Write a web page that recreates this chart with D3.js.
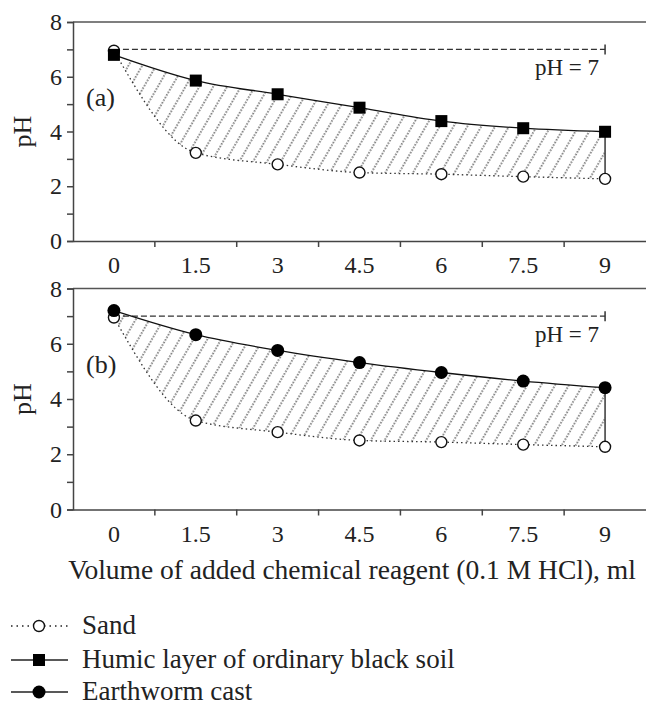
<!DOCTYPE html>
<html>
<head>
<meta charset="utf-8">
<script src="https://cdn.jsdelivr.net/npm/d3@7"></script>
<style>
  body { margin: 0; background: #fff; }
  text { font-family: "Liberation Serif", "Times New Roman", serif; fill: #222; }
</style>
</head>
<body>
<svg id="chart"></svg>
<script>
const volumes = [0, 1.5, 3, 4.5, 6, 7.5, 9];
const sand = [6.95, 3.22, 2.8, 2.5, 2.44, 2.35, 2.27];
const humic = [6.8, 5.86, 5.36, 4.87, 4.38, 4.12, 3.99];
const earthworm = [7.2, 6.33, 5.76, 5.32, 4.96, 4.65, 4.41];
const yTickLabels = [0, 2, 4, 6, 8];
const neutralPH = 7;
const xTitle = "Volume of added chemical reagent (0.1 M HCl), ml";
const legendLabels = ["Sand", "Humic layer of ordinary black soil", "Earthworm cast"];

const width = 646;
const height = 706;
const left = 73;
const right = 646;

const svg = d3.select("#chart")
  .attr("width", width)
  .attr("height", height);

// hatch pattern for the buffered region
svg.append("defs").append("pattern")
  .attr("id", "hatch")
  .attr("patternUnits", "userSpaceOnUse")
  .attr("width", 12)
  .attr("height", 12)
  .attr("patternTransform", "rotate(30)")
  .append("line")
  .attr("x1", 1).attr("y1", 0)
  .attr("x2", 1).attr("y2", 12)
  .attr("stroke", "#1a1a1a")
  .attr("stroke-width", 1.1)
  .attr("stroke-dasharray", "1.5,1.5");

const x = d3.scaleBand()
  .domain(volumes)
  .range([left, right]);
const cx = v => x(v) + x.bandwidth() / 2;

const panels = [
  { top: 22, h: 219, label: "(a)", values: humic, marker: "square" },
  { top: 288.5, h: 221, label: "(b)", values: earthworm, marker: "circle" }
];

panels.forEach(p => {
  const g = svg.append("g").attr("transform", `translate(0,${p.top})`);
  const y = d3.scaleLinear().domain([0, 8]).range([p.h, 0]);
  const last = volumes[volumes.length - 1];

  const pts = volumes.map((v, i) => ({ v, lo: sand[i], hi: p.values[i] }));

  // hatched area between sand and the soil curve
  g.append("path")
    .datum(pts)
    .attr("fill", "url(#hatch)")
    .attr("d", d3.area()
      .x(d => cx(d.v))
      .y0(d => y(d.lo))
      .y1(d => y(d.hi))
      .curve(d3.curveMonotoneX));

  // pH = 7 reference line
  g.append("line")
    .attr("x1", cx(volumes[0])).attr("x2", cx(last))
    .attr("y1", y(neutralPH)).attr("y2", y(neutralPH))
    .attr("stroke", "#333")
    .attr("stroke-width", 1.3)
    .attr("stroke-dasharray", "6,3");
  g.append("line")
    .attr("x1", cx(last)).attr("x2", cx(last))
    .attr("y1", y(neutralPH) - 5).attr("y2", y(neutralPH) + 5)
    .attr("stroke", "#333")
    .attr("stroke-width", 1.5);
  g.append("text")
    .attr("x", cx(last) - 6)
    .attr("y", y(neutralPH) + 26)
    .attr("text-anchor", "end")
    .attr("font-size", 23)
    .text("pH = " + neutralPH);

  // vertical closing line at the last volume
  g.append("line")
    .attr("x1", cx(last)).attr("x2", cx(last))
    .attr("y1", y(p.values[p.values.length - 1])).attr("y2", y(sand[sand.length - 1]))
    .attr("stroke", "#444")
    .attr("stroke-width", 1.6);

  // sand curve (dotted)
  g.append("path")
    .datum(pts)
    .attr("fill", "none")
    .attr("stroke", "#333")
    .attr("stroke-width", 1.3)
    .attr("stroke-dasharray", "1.5,3")
    .attr("d", d3.line().x(d => cx(d.v)).y(d => y(d.lo)).curve(d3.curveMonotoneX));

  // soil curve (solid)
  g.append("path")
    .datum(pts)
    .attr("fill", "none")
    .attr("stroke", "#111")
    .attr("stroke-width", 1.3)
    .attr("d", d3.line().x(d => cx(d.v)).y(d => y(d.hi)).curve(d3.curveMonotoneX));

  // sand markers
  g.selectAll(".sand")
    .data(pts)
    .enter().append("circle")
    .attr("cx", d => cx(d.v))
    .attr("cy", d => y(d.lo))
    .attr("r", 5.5)
    .attr("fill", "#fff")
    .attr("stroke", "#111")
    .attr("stroke-width", 1.4);

  // soil markers
  if (p.marker === "square") {
    g.selectAll(".hi")
      .data(pts)
      .enter().append("rect")
      .attr("x", d => cx(d.v) - 6)
      .attr("y", d => y(d.hi) - 6)
      .attr("width", 12)
      .attr("height", 12)
      .attr("fill", "#000");
  } else {
    g.selectAll(".hi")
      .data(pts)
      .enter().append("circle")
      .attr("cx", d => cx(d.v))
      .attr("cy", d => y(d.hi))
      .attr("r", 6.5)
      .attr("fill", "#000");
  }

  // frame top
  g.append("line")
    .attr("x1", left).attr("x2", right)
    .attr("y1", y(8)).attr("y2", y(8))
    .attr("stroke", "#555")
    .attr("stroke-width", 1.5);

  // y axis
  const yAxis = g.append("g")
    .attr("transform", `translate(${left},0)`)
    .call(d3.axisLeft(y)
      .tickValues(d3.range(0, 9))
      .tickSize(6)
      .tickPadding(5)
      .tickFormat(d => yTickLabels.includes(d) ? d : ""));
  yAxis.selectAll("text").attr("font-size", 24).style("font-family", "Liberation Serif");
  yAxis.selectAll("line,path").attr("stroke", "#444").attr("stroke-width", 1.5);

  // x axis: labels at band centres, ticks at band boundaries
  const xAxis = g.append("g")
    .attr("transform", `translate(0,${p.h})`)
    .call(d3.axisBottom(x).tickSize(0).tickPadding(15).tickSizeOuter(0));
  xAxis.selectAll("text").attr("font-size", 24).style("font-family", "Liberation Serif");
  xAxis.select("path").attr("stroke", "#444").attr("stroke-width", 1.5);
  xAxis.selectAll(".bound")
    .data(volumes.slice(1))
    .enter().append("line")
    .attr("x1", d => x(d)).attr("x2", d => x(d))
    .attr("y1", 0).attr("y2", 6)
    .attr("stroke", "#444")
    .attr("stroke-width", 1.5);

  // y title and panel label
  g.append("text")
    .attr("transform", `translate(31,${p.h / 2}) rotate(-90)`)
    .attr("text-anchor", "middle")
    .attr("font-size", 26)
    .text("pH");
  g.append("text")
    .attr("x", 86)
    .attr("y", 84)
    .attr("font-size", 26)
    .text(p.label);
});

// x axis title
svg.append("text")
  .attr("x", 352)
  .attr("y", 579)
  .attr("text-anchor", "middle")
  .attr("font-size", 27.5)
  .text(xTitle);

// legend
const legendY = [626, 660, 692];
const lg = svg.append("g");
legendLabels.forEach((name, i) => {
  const yy = legendY[i];
  lg.append("line")
    .attr("x1", 11).attr("x2", 68)
    .attr("y1", yy).attr("y2", yy)
    .attr("stroke", "#222")
    .attr("stroke-width", i === 0 ? 1.3 : 1.5)
    .attr("stroke-dasharray", i === 0 ? "1.5,4" : null);
  if (i === 0) {
    lg.append("circle").attr("cx", 39).attr("cy", yy).attr("r", 5.5)
      .attr("fill", "#fff").attr("stroke", "#111").attr("stroke-width", 1.4);
  } else if (i === 1) {
    lg.append("rect").attr("x", 33).attr("y", yy - 6).attr("width", 12).attr("height", 12)
      .attr("fill", "#000");
  } else {
    lg.append("circle").attr("cx", 39).attr("cy", yy).attr("r", 6.5).attr("fill", "#000");
  }
  lg.append("text")
    .attr("x", 82)
    .attr("y", yy + 8)
    .attr("font-size", 27)
    .text(name);
});
</script>
</body>
</html>
